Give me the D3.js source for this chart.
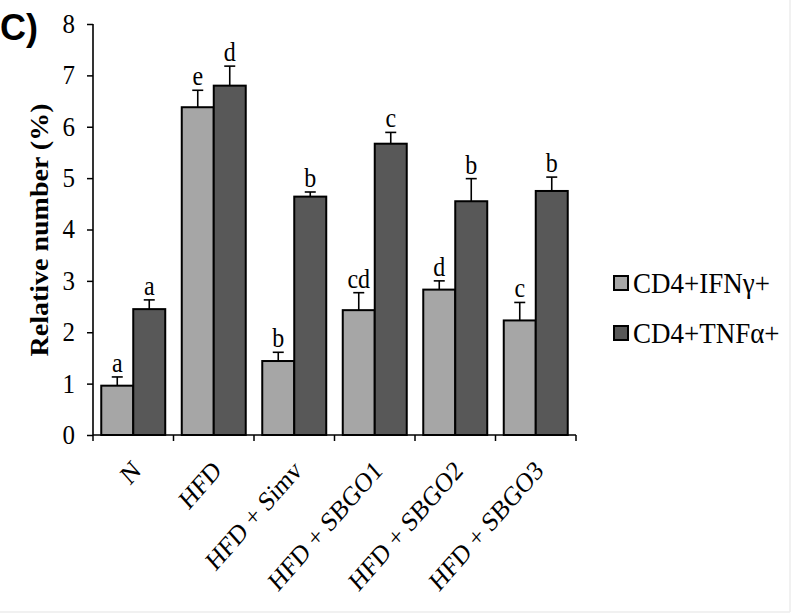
<!DOCTYPE html>
<html>
<head>
<meta charset="utf-8">
<script src="https://cdn.jsdelivr.net/npm/d3@7"></script>
<style>
  html, body { margin: 0; padding: 0; background: #fff; }
  svg { display: block; }
</style>
</head>
<body>
<svg id="chart" width="791" height="616"></svg>
<script>
const categories = ["N", "HFD", "HFD + Simv", "HFD + SBGO1", "HFD + SBGO2", "HFD + SBGO3"];
const seriesNames = ["CD4+IFNγ+", "CD4+TNFα+"];
const ifnValues = [0.96, 6.38, 1.44, 2.43, 2.83, 2.23];
const ifnErrors = [0.17, 0.33, 0.17, 0.34, 0.17, 0.35];
const tnfValues = [2.45, 6.80, 4.64, 5.67, 4.55, 4.75];
const tnfErrors = [0.18, 0.38, 0.09, 0.22, 0.44, 0.27];
const ifnLetters = ["a", "e", "b", "cd", "d", "c"];
const tnfLetters = ["a", "d", "b", "c", "b", "b"];
const yTicks = [0, 1, 2, 3, 4, 5, 6, 7, 8];
const colors = ["#a6a6a6", "#585858"];

const svg = d3.select("#chart");
const serif = "'Liberation Serif', 'Times New Roman', serif";
const vs = 1.12; // vertical stretch of glyphs seen in the reference

// faint frame edges as in the reference
svg.append("line").attr("x1", 790).attr("x2", 790).attr("y1", 0).attr("y2", 612)
  .attr("stroke", "#ececec").attr("stroke-width", 1.5);
svg.append("line").attr("x1", 0).attr("x2", 790).attr("y1", 612).attr("y2", 612)
  .attr("stroke", "#ececec").attr("stroke-width", 1.5);

const x0 = d3.scaleBand().domain(categories).range([93, 576]).paddingInner(0).paddingOuter(0);
const x1 = d3.scaleBand().domain([0, 1]).range([0, x0.bandwidth()]).paddingInner(0).paddingOuter(0.258);
const y = d3.scaleLinear().domain([0, 8]).range([435, 24]);

const rows = categories.map((c, i) => ({
  cat: c,
  bars: [
    { s: 0, v: ifnValues[i], e: ifnErrors[i], l: ifnLetters[i] },
    { s: 1, v: tnfValues[i], e: tnfErrors[i], l: tnfLetters[i] }
  ]
}));

const g = svg.append("g");
const groups = g.selectAll("g.cat").data(rows).join("g")
  .attr("class", "cat")
  .attr("transform", d => `translate(${x0(d.cat)},0)`);

// error bars (upward only)
groups.selectAll("line.err").data(d => d.bars).join("line")
  .attr("class", "err")
  .attr("x1", d => x1(d.s) + x1.bandwidth() / 2)
  .attr("x2", d => x1(d.s) + x1.bandwidth() / 2)
  .attr("y1", d => y(d.v))
  .attr("y2", d => y(d.v + d.e))
  .attr("stroke", "#000").attr("stroke-width", 1.6);
groups.selectAll("line.cap").data(d => d.bars).join("line")
  .attr("class", "cap")
  .attr("x1", d => x1(d.s) + x1.bandwidth() / 2 - 5.5)
  .attr("x2", d => x1(d.s) + x1.bandwidth() / 2 + 5.5)
  .attr("y1", d => y(d.v + d.e))
  .attr("y2", d => y(d.v + d.e))
  .attr("stroke", "#000").attr("stroke-width", 1.6);

groups.selectAll("rect").data(d => d.bars).join("rect")
  .attr("x", d => x1(d.s))
  .attr("width", x1.bandwidth())
  .attr("y", d => y(d.v))
  .attr("height", d => y(0) - y(d.v))
  .attr("fill", d => colors[d.s])
  .attr("stroke", "#000").attr("stroke-width", 2);

groups.selectAll("text.letter").data(d => d.bars).join("text")
  .attr("class", "letter")
  .attr("transform", d => `translate(${x1(d.s) + x1.bandwidth() / 2},${y(d.v + d.e) - 5}) scale(1,${vs})`)
  .attr("text-anchor", "middle")
  .attr("font-family", serif)
  .attr("font-size", 24)
  .attr("fill", "#000")
  .text(d => d.l);

// Y axis
const yAxis = d3.axisLeft(y).tickValues(yTicks).tickSize(6).tickPadding(12).tickFormat(d3.format("d"));
const yg = svg.append("g").attr("transform", "translate(93,0)").call(yAxis);
yg.select(".domain").attr("stroke", "#000").attr("stroke-width", 1.6).attr("d", `M0,${y(8)}V${y(0)}`);
yg.selectAll(".tick line").attr("stroke", "#000").attr("stroke-width", 1.5);
yg.selectAll(".tick text").attr("font-family", serif).attr("font-size", 25).attr("fill", "#000")
  .attr("dy", "0.3em").attr("transform", `scale(1,${vs})`);

// X axis: ticks at category boundaries
const boundaries = categories.map(c => x0(c)).concat([x0.range()[1]]);
const xg = svg.append("g");
xg.append("line").attr("x1", 93).attr("x2", 576).attr("y1", y(0)).attr("y2", y(0))
  .attr("stroke", "#000").attr("stroke-width", 1.6);
xg.selectAll("line.xt").data(boundaries).join("line")
  .attr("class", "xt")
  .attr("x1", d => d).attr("x2", d => d)
  .attr("y1", y(0)).attr("y2", y(0) + 6)
  .attr("stroke", "#000").attr("stroke-width", 1.5);
xg.selectAll("text.xl").data(categories).join("text")
  .attr("class", "xl")
  .attr("transform", d => `translate(${x0(d) + x0.bandwidth() / 2 + 9},${y(0) + 37}) scale(1,1.14) rotate(-45)`)
  .attr("text-anchor", "end")
  .attr("font-family", serif)
  .attr("font-size", 24)
  .attr("fill", "#000")
  .text(d => d);

// Y title
svg.append("text")
  .attr("transform", `translate(48,230) scale(1,${vs}) rotate(-90)`)
  .attr("text-anchor", "middle")
  .attr("font-family", serif)
  .attr("font-weight", "bold")
  .attr("font-size", 25)
  .attr("fill", "#000")
  .text("Relative number (%)");

// Panel label
svg.append("text")
  .attr("x", 0).attr("y", 40)
  .attr("font-family", "'Liberation Sans', Arial, sans-serif")
  .attr("font-weight", "bold")
  .attr("font-size", 36)
  .attr("fill", "#000")
  .text("C)");

// Legend
const legend = svg.append("g").attr("transform", "translate(614,0)");
const legRows = legend.selectAll("g").data(seriesNames).join("g")
  .attr("transform", (d, i) => `translate(0,${283 + i * 50})`);
legRows.append("rect")
  .attr("x", 0).attr("y", -7).attr("width", 14).attr("height", 14)
  .attr("fill", (d, i) => colors[i])
  .attr("stroke", "#000").attr("stroke-width", 2);
legRows.append("text")
  .attr("transform", `translate(19,10) scale(1,${vs})`)
  .attr("font-family", serif)
  .attr("font-size", 27)
  .attr("fill", "#000")
  .text(d => d);
</script>
</body>
</html>
